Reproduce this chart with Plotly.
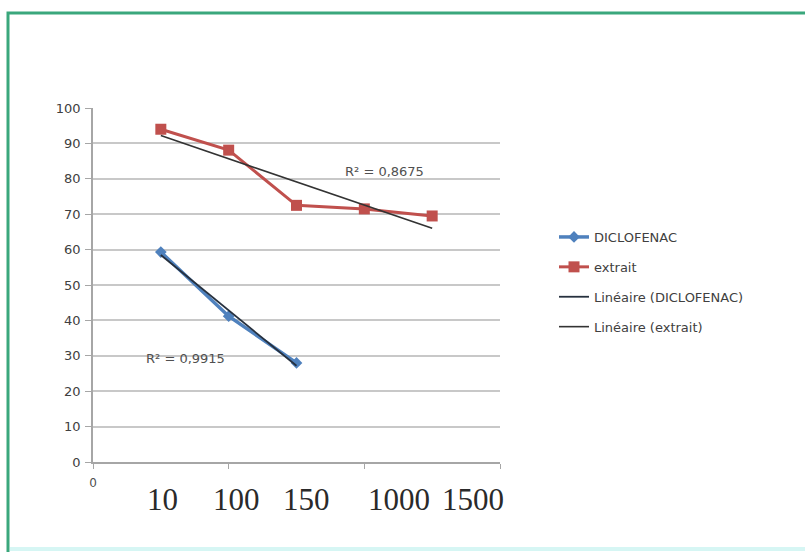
import numpy as np
import plotly.graph_objects as go

# Concentration positions (category index on the x axis) and labels
positions = [1, 2, 3, 4, 5]
conc_labels = ["10", "100", "150", "1000", "1500"]
conc_label_x = [1.02, 2.12, 3.14, 4.51, 5.6]

# Measured values
diclo_x = [1, 2, 3]
diclo_y = [59.3, 41.2, 28.0]
extrait_x = [1, 2, 3, 4, 5]
extrait_y = [94.0, 88.1, 72.5, 71.5, 69.5]

r2_extrait = "R² = 0,8675"
r2_diclo = "R² = 0,9915"

y_ticks = [0, 10, 20, 30, 40, 50, 60, 70, 80, 90, 100]

W, H = 805, 552
L, R, T, B = 93, 500, 108, 462   # plot area in pixels


def px(xp):
    return (xp - L) / (R - L)


def py(yp):
    return (B - yp) / (B - T)


def linfit(x, y):
    k, b = np.polyfit(x, y, 1)
    xs = np.array([min(x), max(x)], dtype=float)
    return xs, k * xs + b


fig = go.Figure()

fig.add_trace(go.Scatter(
    x=diclo_x, y=diclo_y, mode="lines+markers", name="DICLOFENAC",
    line=dict(color="#4f81bd", width=3.5),
    marker=dict(symbol="diamond", size=9, color="#4f81bd"),
    legendgroup="a"))
fig.add_trace(go.Scatter(
    x=extrait_x, y=extrait_y, mode="lines+markers", name="extrait",
    line=dict(color="#c0504d", width=3),
    marker=dict(symbol="square", size=11, color="#c0504d"),
    legendgroup="b"))

tx, ty = linfit(diclo_x, diclo_y)
fig.add_trace(go.Scatter(
    x=tx, y=ty, mode="lines", name="Linéaire (DICLOFENAC)",
    line=dict(color="#26303e", width=1.8), legendgroup="c"))
tx, ty = linfit(extrait_x, extrait_y)
fig.add_trace(go.Scatter(
    x=tx, y=ty, mode="lines", name="Linéaire (extrait)",
    line=dict(color="#333333", width=1.6), legendgroup="d"))

r2_font = dict(family="DejaVu Sans", size=13, color="#505050")
annotations = [
    dict(x=px(384), y=py(171), xref="paper", yref="paper", text=r2_extrait,
         showarrow=False, xanchor="center", yanchor="middle", font=r2_font),
    dict(x=px(185), y=py(358), xref="paper", yref="paper", text=r2_diclo,
         showarrow=False, xanchor="center", yanchor="middle", font=r2_font),
]
for xv, lab in zip(conc_label_x, conc_labels):
    annotations.append(dict(
        x=xv, y=py(499), xref="x", yref="paper", text=lab, showarrow=False,
        xanchor="center", yanchor="middle",
        font=dict(family="Liberation Serif", size=31, color="#2a2a2a")))

shapes = [
    # outer frame
    dict(type="rect", xref="paper", yref="paper",
         x0=px(8), x1=px(820), y0=py(570), y1=py(13),
         line=dict(color="#3aa77c", width=3), layer="below"),
    dict(type="line", xref="paper", yref="paper",
         x0=px(10), x1=px(805), y0=py(549), y1=py(549),
         line=dict(color="#d6f6f4", width=4), layer="below"),
]

fig.update_layout(
    width=W, height=H,
    margin=dict(l=L, r=W - R, t=T, b=H - B),
    paper_bgcolor="white", plot_bgcolor="white",
    showlegend=True,
    legend=dict(x=px(554), y=py(222), xanchor="left", yanchor="top",
                traceorder="grouped", tracegroupgap=10,
                font=dict(family="DejaVu Sans", size=13, color="#404040"),
                bgcolor="rgba(0,0,0,0)"),
    annotations=annotations,
    shapes=shapes,
    font=dict(family="DejaVu Sans", color="#404040"),
)

fig.update_xaxes(
    range=[0, 6], tickvals=[0, 2, 4, 6], ticktext=["0", "", "", ""],
    ticks="outside", ticklen=5, tickcolor="#a6a6a6",
    showline=True, linecolor="#a6a6a6", linewidth=1.5,
    showgrid=False, zeroline=False, ticklabelstandoff=4,
    tickfont=dict(family="DejaVu Sans", size=12, color="#505050"),
)
fig.update_yaxes(
    range=[0, 100], tickvals=y_ticks,
    ticks="outside", ticklen=6, tickcolor="#a6a6a6",
    showline=True, linecolor="#a6a6a6", linewidth=1.5,
    showgrid=True, gridcolor="#c8c8c8", gridwidth=1.5, zeroline=False,
    ticklabelstandoff=2,
    tickfont=dict(family="DejaVu Sans", size=13, color="#404040"),
)

fig.write_html("out.html")
